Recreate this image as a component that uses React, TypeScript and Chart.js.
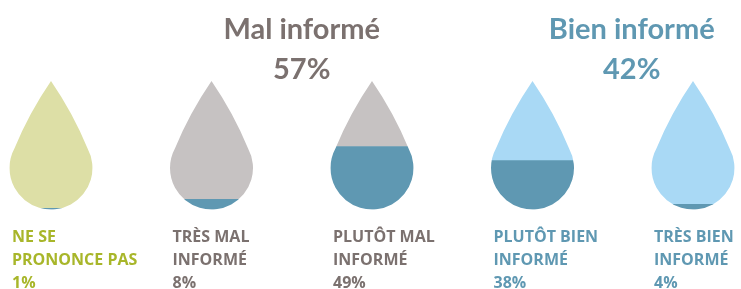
import React, { useEffect, useRef } from "react";
import { Chart, registerables } from "chart.js";

Chart.register(...registerables);

const categories: string[][] = [
  ["NE SE", "PRONONCE PAS"],
  ["TRÈS MAL", "INFORMÉ"],
  ["PLUTÔT MAL", "INFORMÉ"],
  ["PLUTÔT BIEN", "INFORMÉ"],
  ["TRÈS BIEN", "INFORMÉ"],
];
const values = [1, 8, 49, 38, 4];
const remainder = values.map((v) => 100 - v);
const dropColors = ["#DDDFA6", "#C6C2C2", "#C6C2C2", "#A9D9F5", "#A9D9F5"];
const labelColors = ["#A8B62A", "#7B716F", "#7B716F", "#5F98B2", "#5F98B2"];
const fillColor = "#5F98B2";
const groupTitles = ["Mal informé", "Bien informé"];
const groupValues = [57, 42];
const groupColors = ["#7B716F", "#5F98B2"];

function dropPath(ctx: CanvasRenderingContext2D, cx: number, top: number, bottom: number, r: number) {
  const cy = bottom - r;
  const d = cy - top;
  const th = Math.asin(Math.min(0.99, r / d));
  const rx = cx + r * Math.cos(th);
  const ry = cy - r * Math.sin(th);
  const lx = cx - r * Math.cos(th);
  const bulge = 4;
  const len = Math.hypot(rx - cx, ry - top);
  const nx = (ry - top) / len;
  const ny = -(rx - cx) / len;
  ctx.moveTo(cx, top);
  ctx.quadraticCurveTo((cx + rx) / 2 + nx * bulge, (top + ry) / 2 + ny * bulge, rx, ry);
  ctx.arc(cx, cy, r, -th, Math.PI + th, false);
  ctx.quadraticCurveTo((cx + lx) / 2 - nx * bulge, (top + ry) / 2 + ny * bulge, cx, top);
  ctx.closePath();
}

const dropPlugin = {
  id: "drops",
  beforeDatasetsDraw(chart: any) {
    const ctx = chart.ctx;
    const meta = chart.getDatasetMeta(0);
    const y = chart.scales.y;
    const top = y.getPixelForValue(100);
    const bottom = y.getPixelForValue(0);
    ctx.save();
    ctx.beginPath();
    meta.data.forEach((bar: any) => {
      dropPath(ctx, bar.x, top, bottom, bar.width / 2);
    });
    ctx.clip();
  },
  afterDatasetsDraw(chart: any) {
    chart.ctx.restore();
  },
  afterDraw(chart: any) {
    const ctx = chart.ctx;
    const meta = chart.getDatasetMeta(0);
    const y = chart.scales.y;
    const bottom = y.getPixelForValue(0);
    ctx.save();
    ctx.textBaseline = "alphabetic";
    ctx.textAlign = "left";
    ctx.font = 'bold 16px "Open Sans"';
    meta.data.forEach((bar: any, i: number) => {
      const x = bar.x - bar.width / 2 + 2.5;
      ctx.fillStyle = labelColors[i];
      const lines = [...categories[i], values[i] + "%"];
      lines.forEach((t, j) => {
        ctx.fillText(t, x, bottom + 32 + j * 23);
      });
    });
    ctx.textAlign = "center";
    ctx.font = 'bold 29px "Lato"';
    const xs = meta.data.map((b: any) => b.x);
    const centers = [(xs[1] + xs[2]) / 2 + 10, (xs[3] + xs[4]) / 2 + 19];
    groupTitles.forEach((t, i) => {
      ctx.fillStyle = groupColors[i];
      ctx.fillText(t, centers[i], 38.5);
      ctx.fillText(groupValues[i] + "%", centers[i], 78.5);
    });
    ctx.restore();
  },
};

export default function App() {
  const ref = useRef<HTMLCanvasElement>(null);
  useEffect(() => {
    if (!ref.current) return;
    const chart = new Chart(ref.current, {
      type: "bar",
      data: {
        labels: categories.map((c) => c.join(" ")),
        datasets: [
          {
            data: values,
            backgroundColor: fillColor,
            borderWidth: 0,
            barThickness: 83,
            clip: false as any,
          },
          {
            data: remainder,
            backgroundColor: dropColors,
            borderWidth: 0,
            barThickness: 83,
            clip: false as any,
          },
        ],
      },
      options: {
        responsive: false,
        animation: false,
        events: [],
        layout: { padding: { left: 51, right: 48, top: 81, bottom: 79.5 } },
        plugins: { legend: { display: false }, tooltip: { enabled: false }, title: { display: false } },
        scales: {
          x: { display: false, stacked: true, offset: false },
          y: { display: false, stacked: true, min: 0, max: 100 },
        },
      },
      plugins: [dropPlugin],
    });
    document.fonts?.ready.then(() => chart.draw());
    return () => chart.destroy();
  }, []);
  return (
    <div style={{ position: "fixed", left: 0, top: 0, width: 741, height: 289, background: "#fff" }}>
      <canvas ref={ref} width={741} height={289} style={{ display: "block" }} />
    </div>
  );
}
